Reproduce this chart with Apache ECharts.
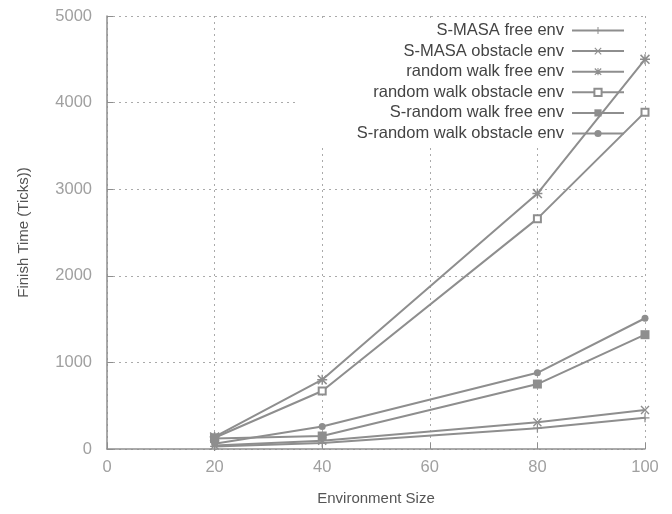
<!DOCTYPE html>
<html>
<head>
<meta charset="utf-8">
<script src="https://cdn.jsdelivr.net/npm/echarts@6/dist/echarts.min.js"></script>
<style>
  html, body { margin: 0; padding: 0; background: #fff; }
  #chart { width: 672px; height: 514px; }
</style>
</head>
<body>
<div id="chart"></div>
<script>
// 数据
const envSizes = [20, 40, 80, 100];
const seriesNames = [
    'S-MASA free env',
    'S-MASA obstacle env',
    'random walk free env',
    'random walk obstacle env',
    'S-random walk free env',
    'S-random walk obstacle env'
];
const smasaFree = [30, 70, 240, 360];
const smasaObstacle = [40, 95, 310, 450];
const rwFree = [140, 800, 2950, 4500];
const rwObstacle = [130, 670, 2660, 3890];
const srwFree = [120, 150, 750, 1320];
const srwObstacle = [60, 260, 880, 1510];

const lineColor = '#8e8e8e';

// gnuplot 风格的点标记
const plusPath = 'path://M4.3,0H5.7V4.3H10V5.7H5.7V10H4.3V5.7H0V4.3H4.3Z';
const crossPath = 'path://M0,1.1L1.1,0L10,8.9L8.9,10ZM8.9,0L10,1.1L1.1,10L0,8.9Z';
const starPath = 'path://M4.3,0H5.7V4.3H10V5.7H5.7V10H4.3V5.7H0V4.3H4.3ZM0,1.1L1.1,0L10,8.9L8.9,10ZM8.9,0L10,1.1L1.1,10L0,8.9Z';

const allData = [smasaFree, smasaObstacle, rwFree, rwObstacle, srwFree, srwObstacle];
const symbols = [plusPath, crossPath, starPath, 'emptyRect', 'rect', 'circle'];
const symbolSizes = [9, 9, 10, 7, 9, 7];

const chart = echarts.init(document.getElementById('chart'));

const series = seriesNames.map((name, i) => ({
    name: name,
    type: 'line',
    z: 5,
    data: envSizes.map((x, j) => [x, allData[i][j]]),
    symbol: symbols[i],
    symbolSize: symbolSizes[i],
    showAllSymbol: true,
    lineStyle: { color: lineColor, width: 2 },
    itemStyle: { color: lineColor, borderColor: lineColor, borderWidth: i === 3 ? 1.2 : 0 },
    emphasis: { disabled: true }
}));

const option = {
    animation: false,
    backgroundColor: '#fff',
    textStyle: { fontFamily: 'Liberation Sans, Arial, sans-serif' },
    grid: { left: 107, right: 27, top: 16, bottom: 65, outerBoundsMode: 'none' },
    legend: {
        orient: 'vertical',
        right: 32,
        top: 20,
        align: 'right',
        padding: [1, 15, 4, 60],
        itemWidth: 52,
        itemHeight: 9,
        itemGap: 1.6,
        z: 1,
        backgroundColor: '#fff',
        textStyle: { color: '#444', fontSize: 16.5, lineHeight: 19, padding: [0, 3, 0, 0] },
        data: seriesNames
    },
    xAxis: {
        type: 'value',
        min: 0,
        max: 100,
        interval: 20,
        name: 'Environment Size',
        nameLocation: 'middle',
        nameGap: 42,
        nameTextStyle: { color: '#555', fontSize: 15 },
        axisLine: { lineStyle: { color: '#8e8e8e', width: 1.5 } },
        axisTick: { inside: true, length: 6, lineStyle: { color: '#8e8e8e' } },
        axisLabel: { color: '#a0a0a0', fontSize: 16.5, margin: 10 },
        splitLine: { show: true, lineStyle: { color: '#aaa', type: [2, 4], width: 1 } }
    },
    yAxis: {
        type: 'value',
        min: 0,
        max: 5000,
        interval: 1000,
        name: 'Finish Time (Ticks))',
        nameLocation: 'middle',
        nameGap: 76,
        nameTextStyle: { color: '#555', fontSize: 15 },
        axisLine: { show: true, lineStyle: { color: '#8e8e8e', width: 1.5 } },
        axisTick: { show: true, inside: true, length: 6, lineStyle: { color: '#8e8e8e' } },
        axisLabel: { color: '#a0a0a0', fontSize: 16.5, margin: 15, formatter: v => String(v) },
        splitLine: { show: true, lineStyle: { color: '#aaa', type: [2, 4], width: 1 } }
    },
    series: series
};

chart.setOption(option);
</script>
</body>
</html>
